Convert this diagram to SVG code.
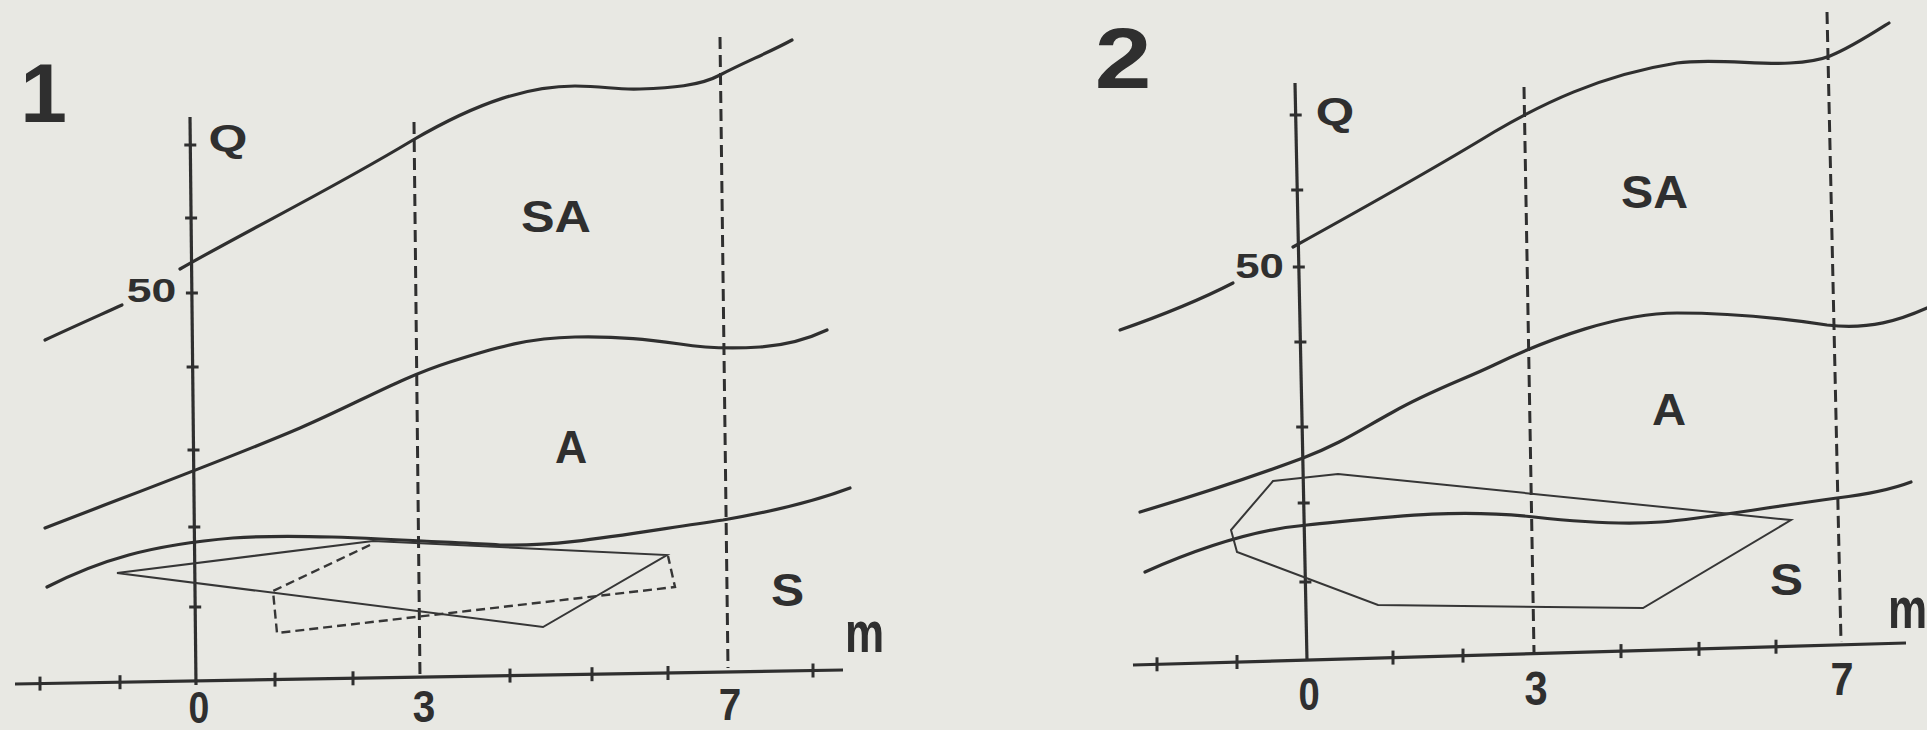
<svg xmlns="http://www.w3.org/2000/svg" width="1927" height="730" viewBox="0 0 1927 730">
<style>
.bg{fill:#e8e8e3}
.curve{fill:none;stroke:#2f2f2f;stroke-width:3.2;stroke-linecap:round;stroke-linejoin:round}
.axis{fill:none;stroke:#2f2f2f;stroke-width:3.2;stroke-linecap:butt}
.tick{stroke:#2f2f2f;stroke-width:3}
.thin{fill:none;stroke:#363636;stroke-width:2;stroke-linejoin:miter}
.dash{fill:none;stroke:#2f2f2f;stroke-width:3;stroke-dasharray:12 6}
.dashthin{fill:none;stroke:#363636;stroke-width:2.4;stroke-dasharray:9 5}
.t{font-family:"Liberation Sans",Arial,sans-serif;font-weight:bold;fill:#2f2f2f;text-anchor:middle}
</style>
<rect class="bg" x="0" y="0" width="1927" height="730"/>

<g id="panel1">
  <g id="p1-axes">
    <line class="axis" x1="190" y1="117" x2="196" y2="685"/>
    <line class="axis" x1="15" y1="684" x2="843" y2="670"/>
    <g id="p1-yticks">
      <line class="tick" x1="184.3" y1="145" x2="196.3" y2="145"/>
      <line class="tick" x1="185.1" y1="218" x2="197.1" y2="218"/>
      <line class="tick" x1="185.9" y1="293" x2="197.9" y2="293"/>
      <line class="tick" x1="186.6" y1="367" x2="198.6" y2="367"/>
      <line class="tick" x1="187.5" y1="450" x2="199.5" y2="450"/>
      <line class="tick" x1="188.3" y1="527" x2="200.3" y2="527"/>
      <line class="tick" x1="189.2" y1="607" x2="201.2" y2="607"/>
    </g>
    <g id="p1-xticks">
      <line class="tick" x1="40" y1="676.6" x2="40" y2="690.6"/>
      <line class="tick" x1="120" y1="675.2" x2="120" y2="689.2"/>
      <line class="tick" x1="275" y1="672.6" x2="275" y2="686.6"/>
      <line class="tick" x1="353" y1="671.3" x2="353" y2="685.3"/>
      <line class="tick" x1="510" y1="668.6" x2="510" y2="682.6"/>
      <line class="tick" x1="592" y1="667.2" x2="592" y2="681.2"/>
      <line class="tick" x1="668" y1="666" x2="668" y2="680"/>
      <line class="tick" x1="813" y1="663.5" x2="813" y2="677.5"/>
    </g>
  </g>
  <g id="p1-guides">
    <line class="dash" x1="414" y1="122" x2="420" y2="678"/>
    <line class="dash" x1="720" y1="37" x2="728" y2="668"/>
  </g>
  <g id="p1-curves">
    <path class="curve" d="M45,340 C75,326 100,315 122,305"/>
    <path class="curve" d="M180,269 C250,229 330,190 413,140 C480,101 530,86 575,86 C605,86 615,90 640,89 C670,88 700,86 720,75 C745,62 770,52 792,40"/>
    <path class="curve" d="M45,528 C130,495 230,458 300,428 C360,402 400,378 450,362 C500,346 530,338 575,337 C620,336 650,340 680,344 C705,348 730,349 760,347 C790,345 810,338 827,330"/>
    <path class="curve" d="M47,587 C100,560 150,545 233,538 C300,533 400,540 500,545 C560,547 620,535 723,520 C770,512 810,503 850,488"/>
  </g>
  <g id="p1-polygons">
    <polygon class="thin" points="117,573 373,541 667,555 543,627"/>
    <path class="dashthin" d="M370,545 L273,591 L277,633 L675,587 L668,556"/>
  </g>
  <g id="p1-labels">
    <text class="t" font-size="84" transform="translate(43.5,122) scale(1.0,1)">1</text>
    <text class="t" font-size="37" transform="translate(228,151) scale(1.35,1)">Q</text>
    <text class="t" font-size="33" transform="translate(151.5,302) scale(1.35,1)">50</text>
    <text class="t" font-size="45" transform="translate(556,232) scale(1.12,1)">SA</text>
    <text class="t" font-size="46" transform="translate(571,463) scale(0.97,1)">A</text>
    <text class="t" font-size="46" transform="translate(787.5,606) scale(1.08,1)">S</text>
    <text class="t" font-size="58" transform="translate(864.5,652) scale(0.76,1)">m</text>
    <text class="t" font-size="44" transform="translate(199,723) scale(0.85,1)">0</text>
    <text class="t" font-size="45" transform="translate(424,722) scale(0.9,1)">3</text>
    <text class="t" font-size="45" transform="translate(730,720) scale(0.9,1)">7</text>
  </g>
</g>

<g id="panel2">
  <g id="p2-axes">
    <line class="axis" x1="1295" y1="83" x2="1307" y2="660"/>
    <line class="axis" x1="1133" y1="665" x2="1906" y2="643"/>
    <g id="p2-yticks">
      <line class="tick" x1="1289.7" y1="115" x2="1301.7" y2="115"/>
      <line class="tick" x1="1291.2" y1="190" x2="1303.2" y2="190"/>
      <line class="tick" x1="1292.8" y1="267" x2="1304.8" y2="267"/>
      <line class="tick" x1="1294.4" y1="342" x2="1306.4" y2="342"/>
      <line class="tick" x1="1296.2" y1="427" x2="1308.2" y2="427"/>
      <line class="tick" x1="1297.7" y1="503" x2="1309.7" y2="503"/>
      <line class="tick" x1="1299.4" y1="582" x2="1311.4" y2="582"/>
    </g>
    <g id="p2-xticks">
      <line class="tick" x1="1157" y1="657.3" x2="1157" y2="671.3"/>
      <line class="tick" x1="1237" y1="655" x2="1237" y2="669"/>
      <line class="tick" x1="1393" y1="650.6" x2="1393" y2="664.6"/>
      <line class="tick" x1="1463" y1="648.6" x2="1463" y2="662.6"/>
      <line class="tick" x1="1621" y1="644.1" x2="1621" y2="658.1"/>
      <line class="tick" x1="1699" y1="641.9" x2="1699" y2="655.9"/>
      <line class="tick" x1="1776" y1="639.7" x2="1776" y2="653.7"/>
    </g>
  </g>
  <g id="p2-guides">
    <line class="dash" x1="1524" y1="87" x2="1534" y2="652"/>
    <line class="dash" x1="1827" y1="12" x2="1841" y2="642"/>
  </g>
  <g id="p2-curves">
    <path class="curve" d="M1120,330 C1160,316 1200,300 1233,283"/>
    <path class="curve" d="M1293,247 C1360,210 1440,165 1494,132 C1540,105 1600,75 1677,63 C1710,58 1760,65 1790,63 C1810,62 1820,60 1830,56 C1850,48 1870,35 1889,23"/>
    <path class="curve" d="M1140,512 C1200,494 1260,474 1303,458 C1340,444 1360,430 1393,412 C1430,391 1465,379 1494,365 C1550,338 1620,313 1677,313 C1730,313 1780,318 1827,325 C1870,330 1900,320 1927,308"/>
    <path class="curve" d="M1145,572 C1190,552 1250,530 1307,525 C1380,518 1450,508 1534,517 C1570,521 1620,525 1661,522 C1700,519 1750,510 1837,498 C1870,494 1890,490 1911,482"/>
  </g>
  <g id="p2-polygons">
    <polygon class="thin" points="1273,481 1338,474 1791,520 1643,608 1378,605 1237,552 1231,530"/>
  </g>
  <g id="p2-labels">
    <text class="t" font-size="85" transform="translate(1123,88) scale(1.2,1)">2</text>
    <text class="t" font-size="38" transform="translate(1335,125) scale(1.3,1)">Q</text>
    <text class="t" font-size="35" transform="translate(1259.5,278) scale(1.25,1)">50</text>
    <text class="t" font-size="46" transform="translate(1654.5,208) scale(1.05,1)">SA</text>
    <text class="t" font-size="45" transform="translate(1669,425) scale(1.05,1)">A</text>
    <text class="t" font-size="45" transform="translate(1786.5,595) scale(1.1,1)">S</text>
    <text class="t" font-size="58" transform="translate(1907.5,628) scale(0.76,1)">m</text>
    <text class="t" font-size="46" transform="translate(1309,710) scale(0.83,1)">0</text>
    <text class="t" font-size="49" transform="translate(1536,705) scale(0.85,1)">3</text>
    <text class="t" font-size="46" transform="translate(1842,695) scale(0.9,1)">7</text>
  </g>
</g>
</svg>
